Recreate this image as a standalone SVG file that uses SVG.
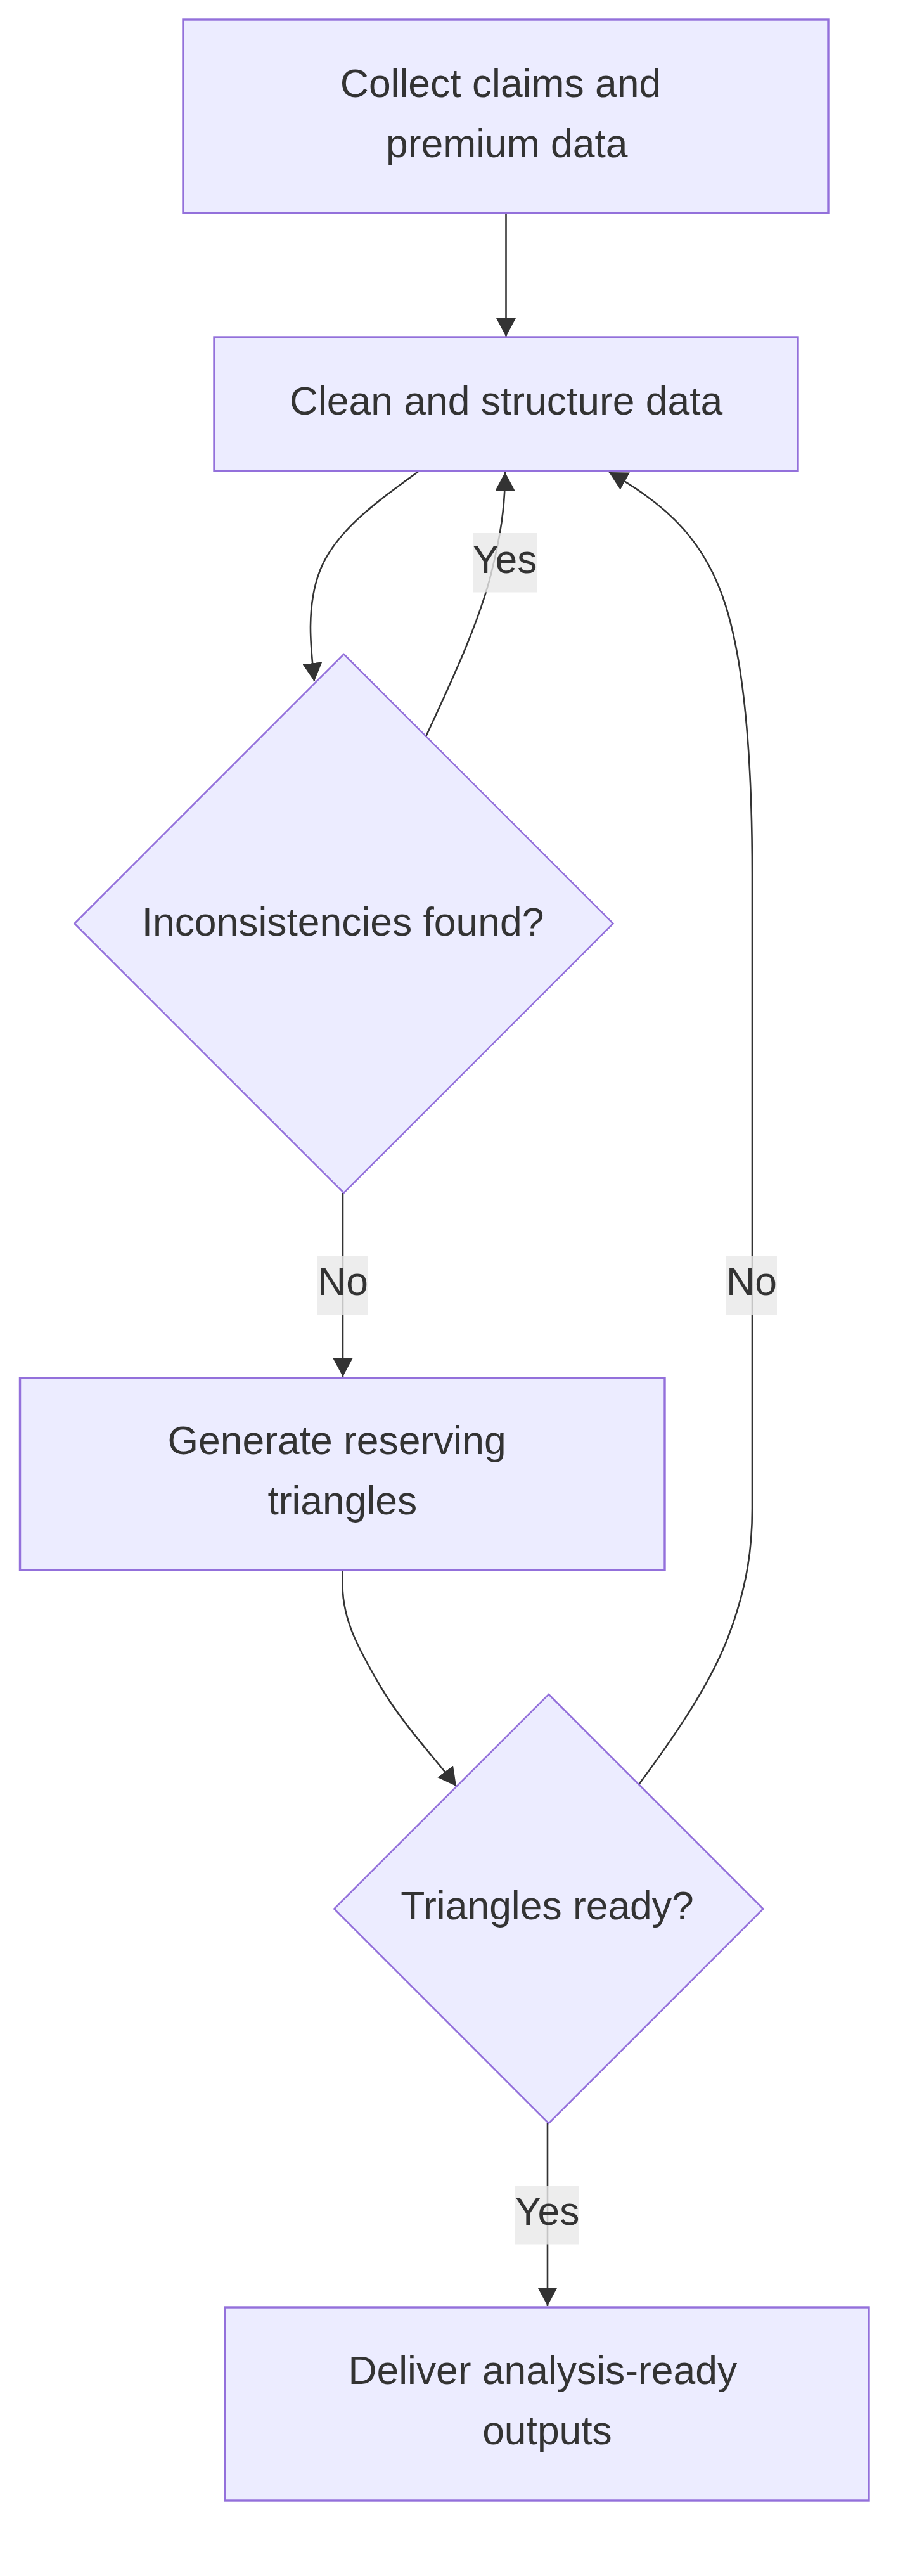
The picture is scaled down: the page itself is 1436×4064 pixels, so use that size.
<svg xmlns="http://www.w3.org/2000/svg" width="1436" height="4064" viewBox="0 0 1436 4064">
<style>
  .node rect, .node polygon { fill: #ECECFF; stroke: #9370DB; }
  .node rect { stroke-width: 3.4; }
  .node polygon { stroke-width: 2.6; }
  .label { font-family: "Liberation Sans", Arial, sans-serif; font-size: 62.4px; fill: #333333; text-anchor: middle; }
  .edge { fill: none; stroke: #333333; stroke-width: 2.6; marker-end: url(#arrow); }
  .edgeLabel rect { fill: rgba(232,232,232,0.8); }
</style>
<defs>
  <marker id="arrow" markerUnits="userSpaceOnUse" viewBox="0 0 30 31" markerWidth="30" markerHeight="31" refX="29" refY="15.5" orient="auto">
    <path d="M0,0 L29,15.5 L0,31 z" fill="#333333"/>
  </marker>
</defs>
<rect width="1436" height="4064" fill="#ffffff"/>

<g id="edges">
  <path class="edge" d="M798.5,337 L798.5,531"/>
  <path class="edge" d="M660,744 C600,788 530,836 505,900 C483,956 490,1020 496,1075"/>
  <path class="edge" d="M672.5,1161 C710,1080 755,985 775,905 C790,845 797,800 797,745"/>
  <path class="edge" d="M541,1882 L541,2172"/>
  <path class="edge" d="M540.5,2478 L540.5,2500 C540.5,2555 565,2600 600,2660 C635,2720 690,2778 720,2818"/>
  <path class="edge" d="M1009,2814 C1060,2745 1120,2660 1150,2580 C1180,2500 1187,2440 1187,2380 L1187,1380 C1187,1200 1175,1050 1145,955 C1115,860 1060,800 961,745"/>
  <path class="edge" d="M864,3350 L864,3638"/>
</g>

<g id="edge-labels">
  <g class="edgeLabel" id="label-yes-1">
    <rect x="746" y="841" width="101" height="93.5"/>
    <text class="label" x="796.5" y="903.5">Yes</text>
  </g>
  <g class="edgeLabel" id="label-no-1">
    <rect x="501" y="1981" width="80" height="93"/>
    <text class="label" x="541" y="2043">No</text>
  </g>
  <g class="edgeLabel" id="label-no-2">
    <rect x="1146" y="1981" width="80" height="93"/>
    <text class="label" x="1186" y="2043">No</text>
  </g>
  <g class="edgeLabel" id="label-yes-2">
    <rect x="813" y="3448" width="101" height="93.5"/>
    <text class="label" x="863.5" y="3510">Yes</text>
  </g>
</g>

<g id="node-collect" class="node">
  <rect x="289" y="31" width="1018" height="305"/>
  <text class="label" x="790" y="152.6">Collect claims and</text>
  <text class="label" x="799.8" y="247.5">premium data</text>
</g>

<g id="node-clean" class="node">
  <rect x="338" y="532" width="921" height="211"/>
  <text class="label" x="798.6" y="653.8">Clean and structure data</text>
</g>

<g id="node-inconsistencies" class="node">
  <polygon points="542.5,1032 967.5,1457 542.5,1882 117.5,1457"/>
  <text class="label" x="541" y="1476">Inconsistencies found?</text>
</g>

<g id="node-generate" class="node">
  <rect x="31.5" y="2174" width="1017.5" height="303"/>
  <text class="label" x="531.6" y="2293.6">Generate reserving</text>
  <text class="label" x="540.3" y="2388.5">triangles</text>
</g>

<g id="node-triangles-ready" class="node">
  <polygon points="865.8,2673 1204.3,3011.5 865.8,3350 527.3,3011.5"/>
  <text class="label" x="863.5" y="3028">Triangles ready?</text>
</g>

<g id="node-deliver" class="node">
  <rect x="355" y="3640" width="1016" height="305"/>
  <text class="label" x="856.3" y="3761">Deliver analysis-ready</text>
  <text class="label" x="863.5" y="3855.8">outputs</text>
</g>
</svg>
